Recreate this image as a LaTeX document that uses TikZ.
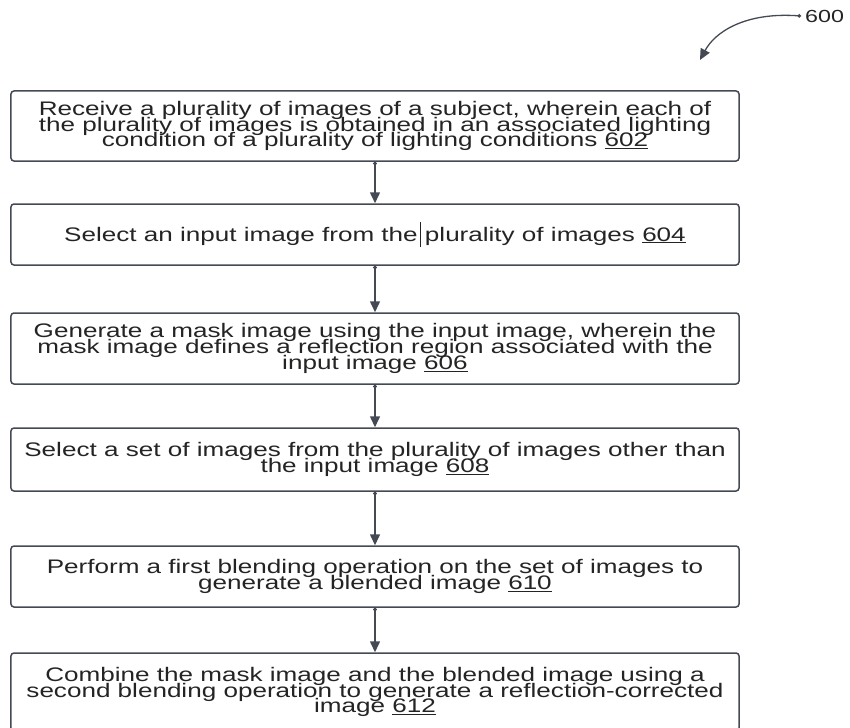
\documentclass[tikz,border=0pt]{standalone}
\usepackage{fontspec}
\newfontfamily\stepfont[FakeStretch=1.33]{Liberation Sans}
\newcommand{\stepsize}{\fontsize{19.6bp}{15.8bp}\selectfont\lineskiplimit=-50bp\relax}
\usetikzlibrary{arrows.meta}

\definecolor{linec}{RGB}{68,73,84}
\definecolor{textc}{RGB}{36,36,36}

\begin{document}
\begin{tikzpicture}[
    every node/.style={font=\stepfont\stepsize,text=textc},
    box/.style={draw=linec,line width=1.5bp,rounded corners=3bp,align=center,
                minimum width=728bp,inner sep=0pt},
    flow/.style={{Circle[length=3.5bp]}-{Triangle[length=11bp,width=10bp]},line width=1.5bp,draw=linec},
    x=1bp,y=-1bp,
  ]
    \useasboundingbox (0,0) rectangle (850,728);
    \node[box,minimum height=70bp] (s1) at (375,126)   {Receive a plurality of images of a subject, wherein each of\\
      the plurality of images is obtained in an associated lighting\\
      condition of a plurality of lighting conditions \underline{602}};
    \node[box,minimum height=61bp] (s2) at (375,234.5) {Select an input image from the\kern2bp\rule[-6bp]{1.2bp}{25bp}\kern4bp plurality of images \underline{604}};
    \node[box,minimum height=71bp] (s3) at (375,348.5) {Generate a mask image using the input image, wherein the\\
      mask image defines a reflection region associated with the\\
      input image \underline{606}};
    \node[box,minimum height=63bp] (s4) at (375,459.5) {Select a set of images from the plurality of images other than\\
      the input image \underline{608}};
    \node[box,minimum height=61bp] (s5) at (375,576.5) {Perform a first blending operation on the set of images to\\
      generate a blended image \underline{610}};
    \node[box,minimum height=78bp] (s6) at (375,692)   {Combine the mask image and the blended image using a\\
      second blending operation to generate a reflection-corrected\\
      image \underline{612}};
    \node[anchor=west,inner sep=0pt,font=\stepfont\fontsize{17.5bp}{20bp}\selectfont] (fig) at (805,16) {600};
    \coordinate (figtip) at (700,60);
    \draw[flow] (s1.south) -- (s2.north);
    \draw[flow] (s2.south) -- (s3.north);
    \draw[flow] (s3.south) -- (s4.north);
    \draw[flow] (s4.south) -- (s5.north);
    \draw[flow] (s5.south) -- (s6.north);
    \draw[flow,line width=1.3bp] ([xshift=-4bp]fig.west) .. controls (745,12) and (715,32) .. (figtip);
  \end{tikzpicture}
\end{document}
